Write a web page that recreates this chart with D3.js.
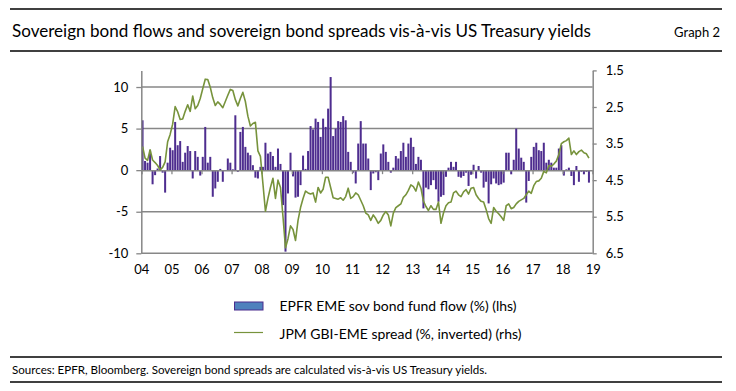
<!DOCTYPE html>
<html><head><meta charset="utf-8">
<script src="https://cdn.jsdelivr.net/npm/d3@7/dist/d3.min.js"></script>
<style>html,body{margin:0;padding:0;background:#fff;}svg{display:block;font-family:Lato,"Open Sans",sans-serif;}</style>
</head><body>
<script>
// ---- data ----
const startYear = 2004;
const xTickLabels = ["04","05","06","07","08","09","10","11","12","13","14","15","16","17","18","19"];
const leftTicks = [-10, -5, 0, 5, 10];
const leftTickLabels = ["-10", "-5", "0", "5", "10"];
const rightTicks = [1.5, 2.5, 3.5, 4.5, 5.5, 6.5];
// EPFR EME sovereign bond fund flow (%), monthly from Jan 2004
const flows = [
 6.0, 1.1, 0.9, 2.4,-1.7,-0.6, 0.2, 1.7,-0.3,-2.7, 0.9, 2.7,
 2.4, 5.8, 3.0, 3.5, 1.0, 2.1, 2.9, 2.3,-1.0, 2.3, 1.6,-0.65,
 1.6, 5.2, 0.9, 1.6,-3.2,-2.2,-1.4, 0.15,-1.4,-0.1, 1.4, 0.9,
 0.1, 6.6,-0.2, 4.6, 5.2, 2.8, 2.1, 1.8, 0.6,-0.9,-1.0, 0.4,
 0.4, 3.3, 2.0, 2.2, 1.7, 0.4, 2.6, 0.75,-4.2,-9.8,-2.8, 2.1,
-0.75,-3.3,-3.2,-1.8, 1.75, 0.15, 2.3, 5.3, 4.9, 6.2, 5.8, 4.0,
 6.2, 5.2, 7.4,11.2, 4.1, 5.0, 5.9, 5.8, 6.5, 6.0, 2.2, 1.0,
-0.3,-1.6, 3.2, 5.9, 3.2, 3.2, 1.4,-2.4,-0.4,-0.25,-1.2, 2.0,
 3.1, 2.2, 1.0,-0.3, 0.3, 1.7, 1.4, 2.3, 3.3, 1.6, 3.2, 3.9,
 2.8, 0.75, 1.6, 1.25,-4.6,-2.1,-2.3,-1.8,-1.2,-2.3,-3.8,-3.2,
-3.0,-0.8, 0.3, 1.0, 0.4, 1.0,-0.8,-0.9,-0.7,-0.3,-1.9,-0.55,
 0.65,-1.0, 0.5,-0.3,-2.1,-1.4,-4.0,-1.7,-1.0,-1.6,-1.8,-1.7,
-1.5, 2.1, 2.1,-0.5, 1.25, 5.0, 2.6, 1.5, 1.0,-3.9,-1.3, 1.6,
 2.8, 3.3, 2.4, 2.3, 3.3, 0.9, 1.25, 0.9, 0.3, 0.3, 2.6, 3.0,
-0.65, 0.1, 0.3,-0.7,-1.8, 0.5,-1.4,-0.2,-0.5,-0.2,-1.5
];
// JPM GBI-EME spread (%), plotted inverted on right axis
const spread = [
 3.58,3.90,3.96,3.67,3.95,4.02,4.10,4.22,4.15,4.00,3.45,3.25,
 2.97,2.49,2.63,2.84,2.83,2.62,2.44,2.62,2.20,2.55,2.46,2.27,
 2.00,1.74,1.75,1.96,2.25,2.46,2.36,2.43,2.52,2.35,2.18,2.02,
 2.05,2.30,2.47,2.27,2.10,2.35,2.75,3.02,2.95,2.92,3.70,3.85,
 4.60,5.35,5.00,4.70,4.45,5.00,4.50,4.70,5.50,6.35,6.10,5.75,
 5.85,6.15,5.60,5.25,5.00,4.80,4.85,4.88,4.85,5.10,4.70,4.85,
 4.75,4.42,4.42,4.70,4.98,5.00,5.02,4.98,5.05,4.95,4.72,5.00,
 4.95,4.85,4.90,5.05,5.20,5.40,5.45,5.60,5.45,5.55,5.68,5.60,
 5.45,5.36,5.45,5.75,5.40,5.25,5.20,5.15,4.97,4.90,4.78,4.63,
 4.68,4.80,4.55,4.72,5.07,5.22,5.33,5.20,5.30,5.30,5.10,5.68,
 5.40,5.20,5.12,5.10,4.85,4.80,4.90,4.95,4.82,4.76,4.88,4.72,
 4.70,4.90,5.00,5.08,5.10,5.30,5.55,5.68,5.25,5.35,5.42,5.50,
 5.60,5.20,5.15,5.28,5.25,5.15,5.08,5.04,5.00,4.90,4.80,4.86,
 4.65,4.54,4.52,4.45,4.26,4.30,4.10,4.12,4.06,3.98,3.80,3.50,
 3.45,3.42,3.35,3.80,3.70,3.80,3.72,3.68,3.75,3.78,3.90
];
const titleText = "Sovereign bond flows and sovereign bond spreads vis-à-vis US Treasury yields";
const graphLabel = "Graph 2";
const legendLabels = ["EPFR EME sov bond fund flow (%) (lhs)", "JPM GBI-EME spread (%, inverted) (rhs)"];
const sourceText = "Sources: EPFR, Bloomberg. Sovereign bond spreads are calculated vis-à-vis US Treasury yields.";

// ---- layout ----
const W = 736, H = 391;
const L = 141.3, R = 592.7, TOP = 70.4, BOT = 253.3;
const barColor = "#4e2d8f", lineColor = "#77933c", gridColor = "#878787";

const svg = d3.select("body").append("svg").attr("width", W).attr("height", H);

// header / footer rules
[9, 51, 357, 382].forEach(y => svg.append("line").attr("x1", 10).attr("x2", 722).attr("y1", y).attr("y2", y)
  .attr("stroke", "#000").attr("stroke-width", 1.3));
svg.append("text").attr("x", 12).attr("y", 37).attr("font-size", 16.5).attr("fill", "#000")
  .attr("textLength", 579).attr("lengthAdjust", "spacingAndGlyphs").text(titleText);
svg.append("text").attr("x", 720).attr("y", 37).attr("font-size", 13).attr("text-anchor", "end").attr("fill", "#000")
  .text(graphLabel);
svg.append("text").attr("x", 12).attr("y", 373.5).attr("font-size", 10.8).attr("fill", "#000")
  .attr("textLength", 475).attr("lengthAdjust", "spacingAndGlyphs").text(sourceText);

// scales
const months = flows.map((d, i) => new Date(startYear, i, 1));
const xTime = d3.scaleTime().domain([new Date(startYear, 0, 1), new Date(startYear + 15, 0, 1)]).range([L, R]);
const allMonths = d3.timeMonths(new Date(startYear, 0, 1), new Date(startYear + 15, 0, 1));
const xBand = d3.scaleBand().domain(allMonths.map(d => +d)).range([L, R]).paddingInner(0.2).paddingOuter(0.1);
const yL = d3.scaleLinear().domain([-10, 12]).range([BOT, TOP]);
const yR = d3.scaleLinear().domain([6.5, 1.5]).range([BOT, TOP]);

// gridlines
const g = svg.append("g");
g.selectAll("line.grid").data(leftTicks.filter(v => v !== 0)).join("line")
  .attr("x1", L).attr("x2", R).attr("y1", d => yL(d)).attr("y2", d => yL(d))
  .attr("stroke", gridColor).attr("stroke-width", 1.5);

// bars
svg.append("g").selectAll("rect").data(flows).join("rect")
  .attr("x", (d, i) => xBand(+months[i]))
  .attr("width", xBand.bandwidth())
  .attr("y", d => Math.min(yL(d), yL(0)))
  .attr("height", d => Math.abs(yL(d) - yL(0)))
  .attr("fill", barColor);

// zero axis with year ticks
const xZero = svg.append("g").attr("transform", `translate(0,${yL(0)})`)
  .call(d3.axisBottom(xTime).tickValues(xTickLabels.map((t, i) => new Date(startYear + i, 0, 1))).tickSize(4).tickFormat(""));
xZero.select(".domain").attr("stroke", gridColor).attr("stroke-width", 1.5);
xZero.selectAll(".tick line").attr("stroke", gridColor).attr("stroke-width", 1.3);

// line
const line = d3.line().x((d, i) => xBand(+months[i]) + xBand.bandwidth() / 2).y(d => yR(d)).curve(d3.curveLinear);
svg.append("path").datum(spread).attr("d", line).attr("fill", "none")
  .attr("stroke", lineColor).attr("stroke-width", 1.6).attr("stroke-linejoin", "round");

// x labels
const xLab = svg.append("g").attr("transform", `translate(0,${BOT})`)
  .call(d3.axisBottom(xTime).tickValues(xTickLabels.map((t, i) => new Date(startYear + i, 0, 1)))
    .tickSize(0).tickPadding(11).tickFormat((d, i) => xTickLabels[i]));
xLab.select(".domain").remove();
xLab.selectAll("text").attr("font-size", 13).attr("fill", "#000").attr("font-family", "Lato, sans-serif");

// left axis
const ax = svg.append("g").attr("transform", `translate(${L},0)`)
  .call(d3.axisLeft(yL).tickValues(leftTicks).tickSize(5).tickPadding(8).tickSizeOuter(0)
    .tickFormat((d, i) => leftTickLabels[i]));
ax.select(".domain").attr("stroke", gridColor).attr("stroke-width", 1.5);
ax.selectAll(".tick line").attr("stroke", gridColor).attr("stroke-width", 1.3);
ax.selectAll("text").attr("font-size", 13).attr("fill", "#000").attr("font-family", "Lato, sans-serif");

// right axis
const ar = svg.append("g").attr("transform", `translate(${R},0)`)
  .call(d3.axisRight(yR).tickValues(rightTicks).tickSize(4).tickPadding(9).tickSizeOuter(0).tickFormat(d3.format(".1f")));
ar.select(".domain").attr("stroke", gridColor).attr("stroke-width", 1.5);
ar.selectAll(".tick line").attr("stroke", gridColor).attr("stroke-width", 1.3);
ar.selectAll("text").attr("font-size", 13).attr("fill", "#000").attr("font-family", "Lato, sans-serif");

// legend
const lg = svg.append("g");
lg.append("rect").attr("x", 234.5).attr("y", 302).attr("width", 28.5).attr("height", 8)
  .attr("fill", "#4f81bd").attr("stroke", "#4b2c8e").attr("stroke-width", 1);
lg.append("line").attr("x1", 234).attr("x2", 263).attr("y1", 332.5).attr("y2", 332.5)
  .attr("stroke", lineColor).attr("stroke-width", 1.2);
lg.append("text").attr("x", 279.5).attr("y", 310.5).attr("font-size", 13).attr("fill", "#000")
  .attr("textLength", 237).attr("lengthAdjust", "spacingAndGlyphs").text(legendLabels[0]);
lg.append("text").attr("x", 279.5).attr("y", 338.5).attr("font-size", 13).attr("fill", "#000")
  .attr("textLength", 242).attr("lengthAdjust", "spacingAndGlyphs").text(legendLabels[1]);
</script>
</body></html>
